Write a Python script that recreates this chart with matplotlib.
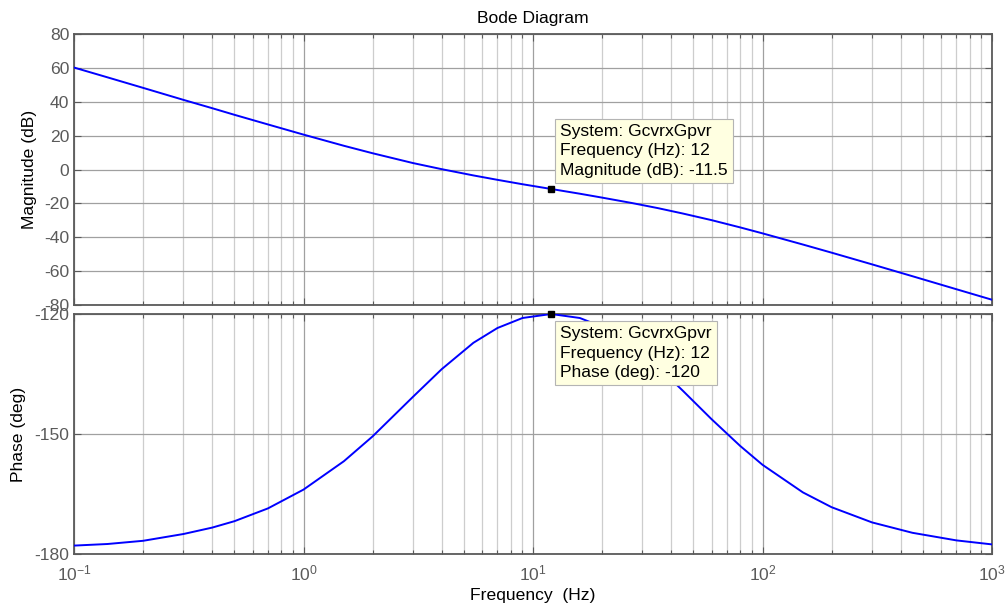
import numpy as np
import matplotlib
matplotlib.use("Agg")
import matplotlib.pyplot as plt
from matplotlib.ticker import LogLocator, FixedLocator, NullFormatter

plt.rcParams['font.family'] = ['Liberation Sans', 'DejaVu Sans']
plt.rcParams['mathtext.fontset'] = 'custom'
plt.rcParams['mathtext.rm'] = 'Liberation Sans'
plt.rcParams['mathtext.it'] = 'Liberation Sans'

# Frequency response of GcvrxGpvr
freq_hz = [0.1, 0.14, 0.2, 0.3, 0.4, 0.5, 0.7, 1.0, 1.5, 2.0, 3.0, 4.0, 5.5, 7.0,
           9.0, 12.0, 16.0, 20.0, 27.0, 35.0, 45.0, 60.0, 80.0, 100.0, 150.0,
           200.0, 300.0, 450.0, 700.0, 1000.0]
magnitude_db = [60.2, 54.4, 48.2, 41.1, 36.2, 32.3, 26.6, 20.6, 14.0, 9.6, 3.8, 0.2,
                -3.5, -6.1, -8.7, -11.5, -14.3, -16.6, -19.8, -22.8, -26.0, -29.9,
                -34.2, -37.7, -44.3, -49.1, -56.0, -63.0, -70.7, -76.9]
phase_deg = [-177.9, -177.5, -176.7, -175.0, -173.4, -171.8, -168.6, -163.9, -156.8,
             -150.6, -140.7, -133.8, -127.2, -123.5, -121.0, -120.0, -121.0, -123.2,
             -127.8, -133.2, -139.2, -146.3, -153.0, -157.7, -164.6, -168.3, -172.1,
             -174.7, -176.6, -177.6]

mag_ticks = [-80, -60, -40, -20, 0, 20, 40, 60, 80]
phase_ticks = [-180, -150, -120]
decade_ticks = [0.1, 1, 10, 100, 1000]
decade_labels = [r'$\mathregular{10^{-1}}$', r'$\mathregular{10^{0}}$',
                 r'$\mathregular{10^{1}}$', r'$\mathregular{10^{2}}$',
                 r'$\mathregular{10^{3}}$']

tip_freq = 12
tip_mag = -11.5
tip_phase = -120

W, H = 1006, 608
fig = plt.figure(figsize=(W / 100, H / 100), dpi=100)
fig.patch.set_facecolor('white')

def px_axes(left, top, right, bottom):
    return fig.add_axes([left / W, 1 - bottom / H, (right - left) / W, (bottom - top) / H])

ax_mag = px_axes(74, 34, 992, 305)
ax_ph = px_axes(74, 314, 992, 554)

spine_col = '#5a5a5a'
tick_col = '#5a5a5a'
FS = 12.6

for ax in (ax_mag, ax_ph):
    ax.set_xscale('log')
    ax.set_xlim(0.1, 1000)
    ax.xaxis.set_major_locator(FixedLocator(decade_ticks))
    ax.xaxis.set_minor_locator(LogLocator(base=10, subs=np.arange(2, 10), numticks=20))
    ax.xaxis.set_minor_formatter(NullFormatter())
    ax.grid(True, which='major', axis='both', color='#a0a0a0', linewidth=0.9)
    ax.grid(True, which='minor', axis='x', color='#cdcdcd', linewidth=0.9)
    ax.set_axisbelow(True)
    for sp in ax.spines.values():
        sp.set_color(spine_col)
        sp.set_linewidth(1.3)
    ax.tick_params(which='both', direction='in', top=True, right=True,
                   colors=spine_col, labelcolor=tick_col, labelsize=FS)
    ax.tick_params(which='major', length=5, width=0.8)
    ax.tick_params(which='minor', length=3, width=0.8)

# Magnitude panel
ax_mag.plot(freq_hz, magnitude_db, color='#0000ff', linewidth=1.4, zorder=3)
ax_mag.set_ylim(-80, 80)
ax_mag.set_yticks(mag_ticks)
ax_mag.set_yticklabels([str(t) for t in mag_ticks])
ax_mag.set_xticklabels([])
ax_mag.set_ylabel('Magnitude (dB)', fontsize=FS, labelpad=5)
ax_mag.set_title('Bode Diagram', fontsize=FS, pad=8)

# Phase panel
ax_ph.plot(freq_hz, phase_deg, color='#0000ff', linewidth=1.4, zorder=3)
ax_ph.set_ylim(-180, -120)
ax_ph.set_yticks(phase_ticks)
ax_ph.set_yticklabels([str(t) for t in phase_ticks])
ax_ph.set_xticklabels(decade_labels)
ax_ph.tick_params(axis='x', pad=7)
ax_ph.set_ylabel('Phase (deg)', fontsize=FS, labelpad=6)
ax_ph.set_xlabel('Frequency  (Hz)', fontsize=FS, labelpad=3)

# Data tips
box = dict(boxstyle='square,pad=0.3', facecolor='#ffffe1', edgecolor='#b4b4b4', linewidth=0.8)

ax_mag.plot([tip_freq], [tip_mag], marker='s', ms=4.5, mfc='black', mec='black',
            zorder=5, clip_on=False)
ax_mag.annotate('System: GcvrxGpvr\nFrequency (Hz): %g\nMagnitude (dB): %g' % (tip_freq, tip_mag),
                xy=(tip_freq, tip_mag), xytext=(9, 11), textcoords='offset pixels',
                ha='left', va='bottom', fontsize=FS, linespacing=1.38,
                bbox=box, zorder=6)

ax_ph.plot([tip_freq], [tip_phase], marker='s', ms=4.5, mfc='black', mec='black',
           zorder=5, clip_on=False)
ax_ph.annotate('System: GcvrxGpvr\nFrequency (Hz): %g\nPhase (deg): %g' % (tip_freq, tip_phase),
               xy=(tip_freq, tip_phase), xytext=(9, -12), textcoords='offset pixels',
               ha='left', va='top', fontsize=FS, linespacing=1.38,
               bbox=box, zorder=6)

fig.savefig('out.png', dpi=100)
